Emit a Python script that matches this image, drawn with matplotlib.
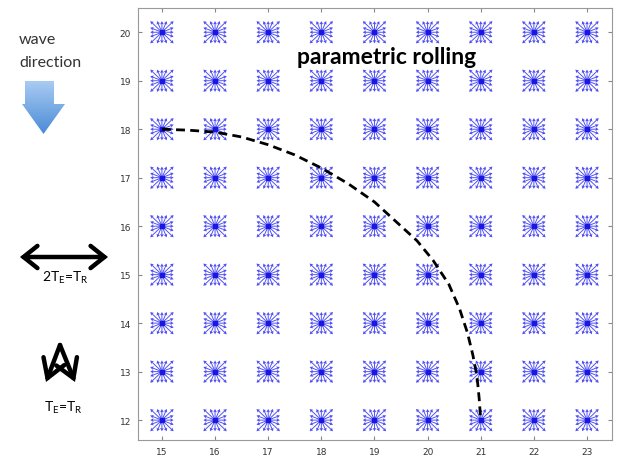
import numpy as np
import matplotlib.pyplot as plt
from matplotlib.patches import Polygon, FancyArrowPatch
from matplotlib.colors import LinearSegmentedColormap

# grid of wave-direction stars
xs = [15, 16, 17, 18, 19, 20, 21, 22, 23]
ys = [12, 13, 14, 15, 16, 17, 18, 19, 20]
angles_deg = [0, 22.5, 45, 67.5, 90, 112.5, 135, 157.5,
              180, 202.5, 225, 247.5, 270, 292.5, 315, 337.5]

# parametric rolling boundary
curve_x = [15, 15.5, 16, 16.5, 17, 17.5, 18, 18.5, 19, 19.4, 19.8, 20.1,
           20.4, 20.6, 20.75, 20.85, 20.93, 20.97, 21]
curve_y = [18, 17.98, 17.94, 17.84, 17.68, 17.47, 17.2, 16.88, 16.5, 16.1, 15.7, 15.3,
           14.8, 14.3, 13.8, 13.35, 12.9, 12.45, 12]

fig = plt.figure(figsize=(6.17, 4.56), dpi=100)
ax = fig.add_axes([138 / 617, 1 - 441 / 456, 474 / 617, 432 / 456])

# star glyphs: arrows reaching a square outline
X, Y, U, V = [], [], [], []
for x in xs:
    for y in ys:
        for a in angles_deg:
            t = np.radians(a)
            c, s = np.cos(t), np.sin(t)
            k = 1 / max(abs(c), abs(s))
            X.append(x)
            Y.append(y)
            U.append(0.22 * c * k)
            V.append(0.23 * s * k)
ax.quiver(X, Y, U, V, angles='xy', scale_units='xy', scale=1, color='#3030f0',
          alpha=0.85, width=0.002, headwidth=4, headlength=3.5, headaxislength=3)
ax.plot(xs * len(ys), np.repeat(ys, len(xs)), 's', color='#1818e0', ms=2.5, lw=0)

ax.plot(curve_x, curve_y, '--', color='black', lw=2, dashes=(3.2, 1.9))

ax.set_xlim(14.55, 23.47)
ax.set_ylim(11.59, 20.5)
ax.set_xticks(xs)
ax.set_yticks(ys)
ax.tick_params(direction='in', length=3, labelsize=6.5, labelcolor='#333333',
               color='#888888', top=True, right=True, pad=5)
for sp in ax.spines.values():
    sp.set_color('#999999')
    sp.set_linewidth(0.8)

ax.text(19.22, 19.5, 'parametric rolling', fontsize=16.5, fontweight='bold',
        family='Lato', ha='center', va='center')

# annotation overlay in pixel coordinates
ov = fig.add_axes([0, 0, 1, 1], facecolor='none')
ov.set_xlim(0, 617)
ov.set_ylim(456, 0)
ov.axis('off')

ov.text(19, 40, 'wave', fontsize=11.5, family='Lato', color='#333333', ha='left', va='center')
ov.text(19, 63, 'direction', fontsize=11.5, family='Lato', color='#333333', ha='left', va='center')

arrow = Polygon([(25, 82), (54, 82), (54, 105), (65, 105), (43.5, 135),
                 (22, 105), (25, 105)], closed=True, facecolor='none', edgecolor='none')
ov.add_patch(arrow)
grad = np.linspace(0, 1, 100).reshape(-1, 1)
cm = LinearSegmentedColormap.from_list('b', ['#a9cbf2', '#4a8bd6'])
im = ov.imshow(grad, cmap=cm, extent=(20, 67, 135, 82), aspect='auto', zorder=2)
im.set_clip_path(arrow)

ov.add_patch(FancyArrowPatch((20, 258), (108, 258), arrowstyle='<->,head_length=10,head_width=8',
                             color='black', lw=3.2, mutation_scale=1,
                             shrinkA=0, shrinkB=0, capstyle='round', joinstyle='miter'))
ov.text(65, 278, r'2T$_\mathregular{E}$=T$_\mathregular{R}$', fontsize=10, family='Lato',
        ha='center', va='center')

for end in [(46, 383), (75, 383)]:
    ov.add_patch(FancyArrowPatch((60, 346), end, arrowstyle='->,head_length=13,head_width=8',
                                 color='black', lw=3.2, mutation_scale=1,
                                 shrinkA=0, shrinkB=0, joinstyle='miter'))
ov.text(63, 408, r'T$_\mathregular{E}$=T$_\mathregular{R}$', fontsize=10, family='Lato',
        ha='center', va='center')

fig.savefig('out.png', dpi=100)
